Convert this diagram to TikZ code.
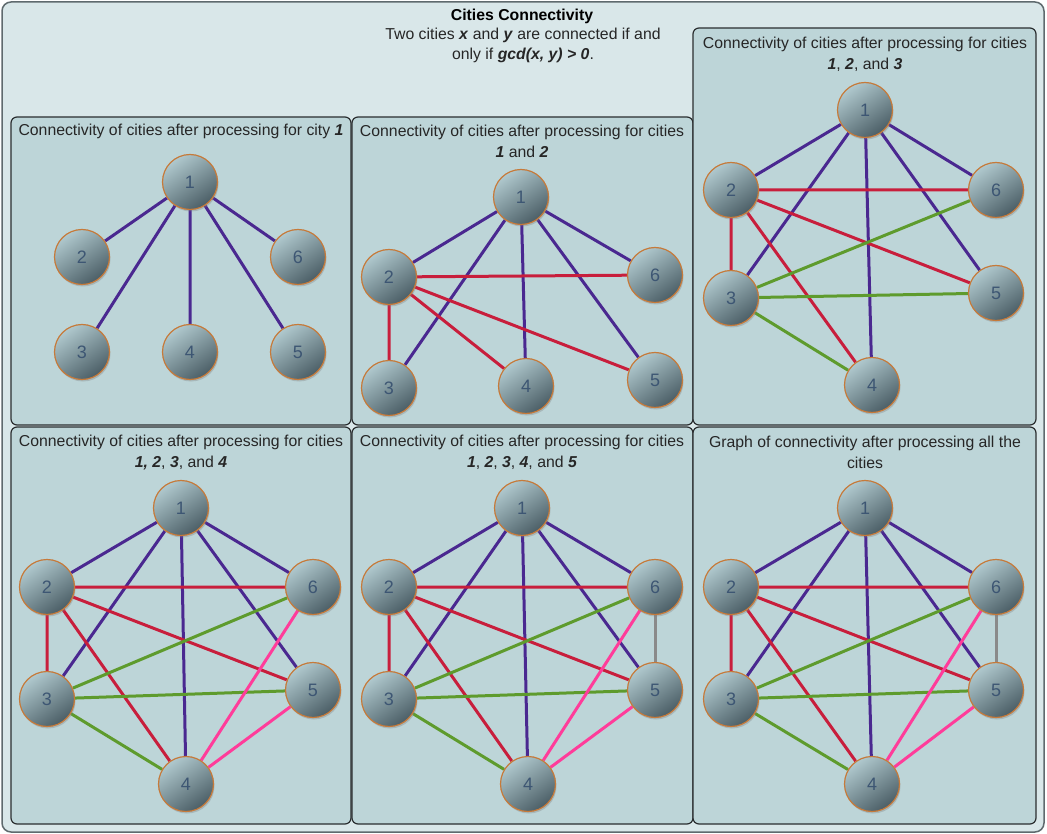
\documentclass[tikz,border=0pt]{standalone}
\usepackage{fontspec}
\setmainfont{Liberation Sans}
\usetikzlibrary{positioning}
\usetikzlibrary{shadows}
\usetikzlibrary{backgrounds}

\definecolor{boardfill}{HTML}{D9E7E9}
\definecolor{boardrim}{HTML}{5F6A6E}
\definecolor{panelfill}{HTML}{BDD5D8}
\definecolor{panelrim}{HTML}{2B2E30}
\definecolor{cityrim}{HTML}{C67A3A}
\definecolor{citytop}{HTML}{B0C9CE}
\definecolor{citybot}{HTML}{4B5E66}
\definecolor{citytext}{HTML}{3D5673}
\definecolor{purpleedge}{HTML}{4A2890}
\definecolor{rededge}{HTML}{C81E3C}
\definecolor{greenedge}{HTML}{5E9B2D}
\definecolor{pinkedge}{HTML}{FF3C9A}
\definecolor{greyedge}{HTML}{8A8A8A}

\newcommand{\bi}[1]{\textbf{\textit{#1}}}

\begin{document}
\begin{tikzpicture}[x=1pt,y=-1pt,
  city/.style={circle,minimum size=55pt,inner sep=0pt,draw=cityrim,line width=1.2pt,
    top color=citytop,bottom color=citybot,shading angle=35,text=citytext,
    font=\fontsize{18}{18}\selectfont,
    drop shadow={opacity=0.35,shadow xshift=1pt,shadow yshift=-2pt}},
  panel/.style={draw=panelrim,line width=1.2pt,fill=panelfill,rounded corners=6pt},
  caption/.style={align=center,text=black!85,font=\fontsize{15.8}{21}\selectfont},
  p1/.style={line width=3pt,purpleedge},
  p2/.style={line width=3pt,rededge},
  p3/.style={line width=3pt,greenedge},
  p4/.style={line width=3pt,pinkedge},
  p5/.style={line width=3pt,greyedge}]
\useasboundingbox (0,0) rectangle (1047,834);

\begin{scope}[on background layer]
  \draw[boardrim,line width=1.5pt,fill=boardfill,rounded corners=9pt] (2,2) rectangle (1044,832);
  \draw[panel] (11,117) rectangle (351,425);
  \draw[panel] (352,117) rectangle (693,425);
  \draw[panel] (693,28) rectangle (1036,425);
  \draw[panel] (11,427) rectangle (351,824);
  \draw[panel] (352,427) rectangle (693,824);
  \draw[panel] (693,427) rectangle (1036,824);
\end{scope}

% titles
\node (title) at (522,16)[font=\bfseries\fontsize{15.8}{19}\selectfont]{Cities Connectivity};
\node (rule) at (523,45)[caption,font=\fontsize{15.8}{20}\selectfont]{Two cities \bi{x} and \bi{y} are connected if and\\only if \bi{gcd(x, y) > 0}.};
\node (ta) at (181,131)[caption]{Connectivity of cities after processing for city \bi{1}};
\node (tb) at (522,141.5)[caption]{Connectivity of cities after processing for cities\\\bi{1} and \bi{2}};
\node (tc) at (865,54.5)[caption]{Connectivity of cities after processing for cities\\\bi{1}, \bi{2}, and \bi{3}};
\node (td) at (181,452.5)[caption]{Connectivity of cities after processing for cities\\\bi{1, 2}, \bi{3}, and \bi{4}};
\node (te) at (522,452.5)[caption]{Connectivity of cities after processing for cities\\\bi{1}, \bi{2}, \bi{3}, \bi{4}, and \bi{5}};
\node (tf) at (865,452.5)[caption]{Graph of connectivity after processing all the\\cities};

% city 1
\node (a1) at (190,182)[city]{1};
\node (a2) at (82,257)[city]{2};
\node (a3) at (82,352)[city]{3};
\node (a4) at (190,352)[city]{4};
\node (a5) at (298,352)[city]{5};
\node (a6) at (298,257)[city]{6};
% cities 1 and 2
\node (b1) at (521,197)[city]{1};
\node (b2) at (389,277)[city]{2};
\node (b3) at (389,388)[city]{3};
\node (b4) at (526,386)[city]{4};
\node (b5) at (655,380)[city]{5};
\node (b6) at (655,275)[city]{6};
% cities 1 to 3
\node (c1) at (865,110)[city]{1};
\node (c2) at (731,190)[city]{2};
\node (c3) at (731,298)[city]{3};
\node (c4) at (872,385)[city]{4};
\node (c5) at (996,293)[city]{5};
\node (c6) at (996,190)[city]{6};
% cities 1 to 4
\node (d1) at (181,508)[city]{1};
\node (d2) at (47,587)[city]{2};
\node (d3) at (47,699)[city]{3};
\node (d4) at (186,784)[city]{4};
\node (d5) at (313,690)[city]{5};
\node (d6) at (313,587)[city]{6};
% cities 1 to 5
\node (e1) at (522,508)[city]{1};
\node (e2) at (389,587)[city]{2};
\node (e3) at (389,699)[city]{3};
\node (e4) at (528,784)[city]{4};
\node (e5) at (655,690)[city]{5};
\node (e6) at (655,587)[city]{6};
% all the cities
\node (f1) at (865,508)[city]{1};
\node (f2) at (731,587)[city]{2};
\node (f3) at (731,699)[city]{3};
\node (f4) at (872,784)[city]{4};
\node (f5) at (996,690)[city]{5};
\node (f6) at (996,587)[city]{6};

\begin{scope}[on background layer]
\foreach \g in {a,b,c,d,e,f}{
  \draw[p1](\g1)--(\g2) (\g1)--(\g3) (\g1)--(\g4) (\g1)--(\g5) (\g1)--(\g6);}
\foreach \g in {b,c,d,e,f}{
  \draw[p2](\g2)--(\g3) (\g2)--(\g4) (\g2)--(\g5) (\g2)--(\g6);}
\foreach \g in {c,d,e,f}{
  \draw[p3](\g3)--(\g4) (\g3)--(\g5) (\g3)--(\g6);}
\foreach \g in {d,e,f}{
  \draw[p4](\g4)--(\g5) (\g4)--(\g6);}
\foreach \g in {e,f}{
  \draw[p5](\g5)--(\g6);}
\end{scope}
\end{tikzpicture}
\end{document}
